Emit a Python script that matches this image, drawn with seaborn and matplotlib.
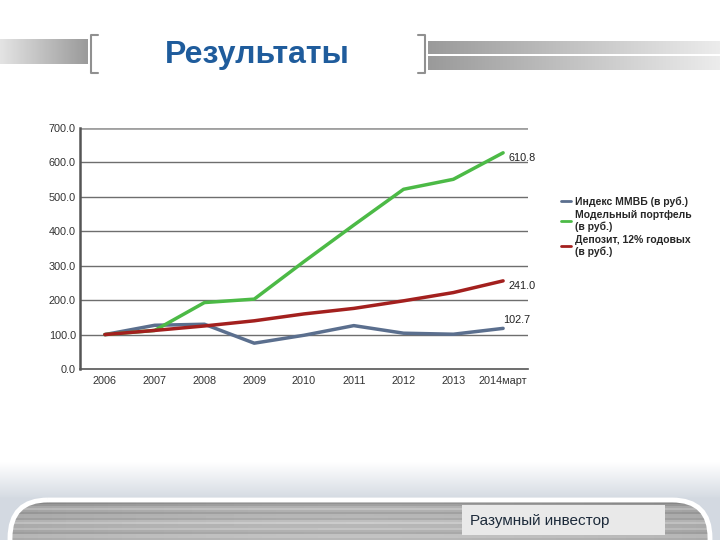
import numpy as np
import pandas as pd
import matplotlib
matplotlib.use("Agg")
import matplotlib.pyplot as plt
import seaborn as sns
from matplotlib.patches import FancyBboxPatch, Rectangle
from matplotlib.colors import LinearSegmentedColormap
from matplotlib.lines import Line2D

# ---- data ----
categories = ["2006", "2007", "2008", "2009", "2010", "2011", "2012", "2013", "2014март"]
micex = [100, 127, 130, 75, 98, 126, 104, 101, 118]
portfolio = [100, 112, 193, 203, 312, 418, 522, 551, 628]
deposit = [100, 112, 125, 140, 160, 176, 198, 222, 256]
series_names = ["Индекс ММВБ (в руб.)", "Модельный портфель\n(в руб.)", "Депозит, 12% годовых\n(в руб.)"]
end_labels = ["102.7", "610.8", "241.0"]
y_ticks = [0, 100, 200, 300, 400, 500, 600, 700]
title_text = "Результаты"
footer_text = "Разумный инвестор"

colors = ["#5b6f8e", "#4cba46", "#a3201e"]

sns.set_theme(style="white")
plt.rcParams['font.family'] = ['Liberation Sans', 'DejaVu Sans']

rows = []
for name, vals in zip(series_names, [micex, portfolio, deposit]):
    for i, v in enumerate(vals):
        rows.append({"pos": i, "value": v, "series": name})
df = pd.DataFrame(rows)

fig = plt.figure(figsize=(7.2, 5.4), dpi=100)
fig.patch.set_facecolor("white")

# ---- background decorations (pixel coordinates) ----
bg = fig.add_axes([0, 0, 1, 1], zorder=0)
bg.set_xlim(0, 720)
bg.set_ylim(540, 0)
bg.axis("off")

grey_cmap = LinearSegmentedColormap.from_list("g", ["#e4e4e4", "#9a9a9a"])
grey_cmap_r = LinearSegmentedColormap.from_list("g2", ["#9a9a9a", "#ececec"])
grad = np.linspace(0, 1, 256).reshape(1, -1)
# left header bar
bg.imshow(grad, cmap=grey_cmap, aspect="auto", extent=(0, 88, 64, 39), zorder=1)
# right header bars
bg.imshow(grad, cmap=grey_cmap_r, aspect="auto", extent=(428, 720, 54, 41), zorder=1)
bg.imshow(grad, cmap=grey_cmap_r, aspect="auto", extent=(428, 720, 70, 56), zorder=1)
# brackets
bg.plot([98, 91, 91, 98], [35, 35, 73, 73], color="#909090", lw=1.5, zorder=2)
bg.plot([418, 425, 425, 418], [35, 35, 73, 73], color="#909090", lw=1.5, zorder=2)
bg.text(257, 55, title_text, color="#1f5c9c", fontsize=23, fontweight="bold",
        ha="center", va="center", zorder=3)

# bottom shadow band
shade_cmap = LinearSegmentedColormap.from_list("s", ["#ffffff", "#d3d9e1"])
bg.imshow(np.linspace(0, 1, 64).reshape(-1, 1), cmap=shade_cmap, aspect="auto",
          extent=(0, 720, 500, 462), zorder=1)
bg.add_patch(Rectangle((0, 498), 720, 50, color="#d3d9e1", zorder=1))
# panel with streaks
panel = FancyBboxPatch((10, 500), 700, 80, boxstyle="round,pad=0,rounding_size=38",
                       facecolor="none", edgecolor="white", lw=3.5, zorder=3)
bg.add_patch(panel)
r = np.arange(40)
col = 0.64 + 0.05 * np.sin(r * 1.9) + 0.03 * np.sin(r * 0.7) + 0.12 * (r / 40.0)
col[:3] = [0.45, 0.52, 0.58]
tex = np.tile(col.reshape(-1, 1), (1, 50))
xs = np.linspace(0, 1, 50)
tex = tex + 0.05 * np.sin(xs * 3.14159).reshape(1, -1)
im = bg.imshow(tex, cmap="gray", vmin=0, vmax=1, aspect="auto",
               extent=(10, 710, 580, 500), zorder=2)
clip = FancyBboxPatch((10, 500), 700, 80, boxstyle="round,pad=0,rounding_size=38",
                      transform=bg.transData, facecolor="none", edgecolor="none")
bg.add_patch(clip)
im.set_clip_path(clip)
bg.add_patch(Rectangle((462, 505), 203, 30, facecolor="#e9e9e9", edgecolor="none", zorder=4))
bg.text(470, 521, footer_text, fontsize=11, color="#1c2a3a", va="center", ha="left", zorder=5)

# ---- main chart ----
ax = fig.add_axes([80 / 720, 1 - 369 / 540, 448 / 720, 241 / 540], zorder=2)
ax.set_facecolor("white")
sns.lineplot(data=df, x="pos", y="value", hue="series", hue_order=series_names,
             palette=colors, linewidth=2.5, ax=ax, legend=False, zorder=3)

ax.set_xlim(-0.5, len(categories) - 0.5)
ax.set_ylim(0, 700)
ax.set_yticks(y_ticks)
ax.set_yticklabels([f"{v:.1f}" for v in y_ticks], fontsize=7.8, color="#333333")
ax.set_xticks(range(len(categories)))
ax.set_xticklabels(categories, fontsize=7.8, color="#333333")
ax.set_xticks(np.arange(-0.5, len(categories), 1.0), minor=True)
ax.tick_params(axis="x", which="major", length=0, pad=5)
ax.tick_params(axis="x", which="minor", length=4, width=1, color="#555555", direction="out")
ax.tick_params(axis="y", length=3, width=1, color="#555555", direction="out", pad=0)
ax.set_xlabel("")
ax.set_ylabel("")
for v in y_ticks[1:]:
    ax.axhline(v, color="#a0a0a0" if v == 700 else "#6e6e6e",
               lw=2.0 if v == 700 else 1.0, zorder=1)
for s in ["top", "right"]:
    ax.spines[s].set_visible(False)
ax.spines["left"].set_color("#555555")
ax.spines["left"].set_linewidth(1.8)
ax.spines["bottom"].set_color("#555555")
ax.spines["bottom"].set_linewidth(1.2)

last = len(categories) - 1
offsets = [(0, 6), (4, -4), (4, -4)]
for vals, lab, off in zip([micex, portfolio, deposit], end_labels, offsets):
    ax.annotate(lab, (last, vals[-1]), xytext=off, textcoords="offset points",
                fontsize=7.8, color="#222222", ha="left", va="center",
                annotation_clip=False, zorder=5)

handles = [Line2D([0], [0], color=c, lw=2) for c in colors]
fig.legend(handles, series_names, loc="upper left", bbox_to_anchor=(561 / 720, 1 - 196 / 540),
           frameon=False, handlelength=1.0, handletextpad=0.3,
           labelspacing=0.3, borderaxespad=0, borderpad=0,
           prop={"weight": "bold", "size": 7.5})

fig.savefig("out.png", dpi=100)
